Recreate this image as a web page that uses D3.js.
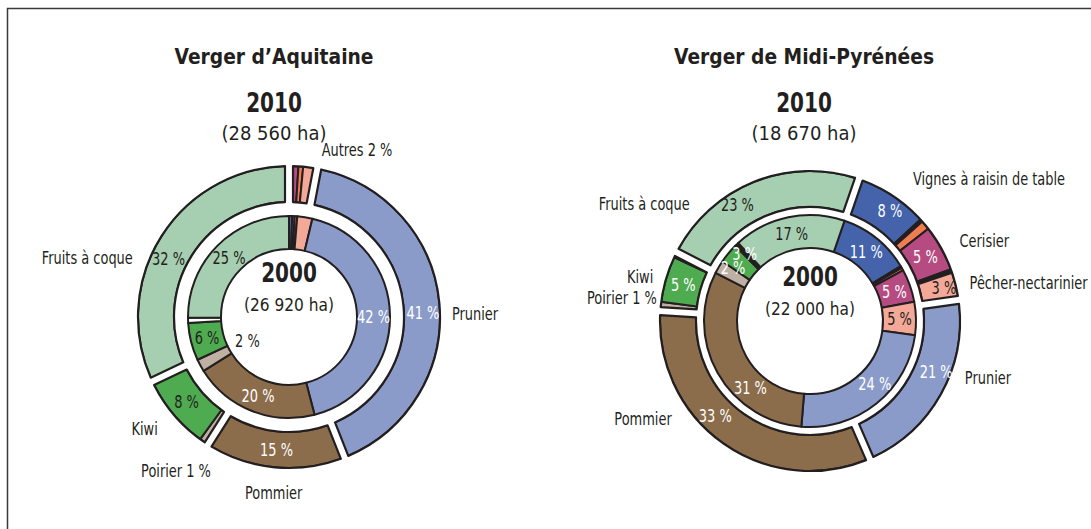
<!DOCTYPE html>
<html>
<head>
<meta charset="utf-8">
<script src="https://cdn.jsdelivr.net/npm/d3@7"></script>
<style>
body{margin:0;background:#fff;}
svg text{font-family:"DejaVu Sans",sans-serif;fill:#231f20;}
</style>
</head>
<body>
<svg id="chart" width="1091" height="529"></svg>
<script>
// ---- data ----
var titles = ['Verger d’Aquitaine', 'Verger de Midi-Pyrénées'];
var years = ['2010', '2000'];
var areas2010 = ['(28 560 ha)', '(18 670 ha)'];
var areas2000 = ['(26 920 ha)', '(22 000 ha)'];

// Aquitaine, 2010 (outer ring) and 2000 (inner ring)
var aqOuterCats = ['Vignes à raisin de table','Cerisier','Autres','Pêcher-nectarinier','Prunier','Pommier','Poirier','Kiwi','Fruits à coque'];
var aqOuterVals = [0.4, 0.6, 0.5, 1.5, 41, 15, 1, 8, 32];
var aqOuterGroup = [0,0,0,0,1,2,3,3,4];
var aqOuterPct = ['','','','','41 %','15 %','','8 %','32 %'];
var aqInnerCats = ['Vignes à raisin de table','Cerisier','Autres','Pêcher-nectarinier','Prunier','Pommier','Poirier','Kiwi','Non précisé','Fruits à coque'];
var aqInnerVals = [0.5, 0.4, 0.4, 2.4, 42, 20, 2, 6, 0.8, 25];
var aqInnerPct = ['','','','','42 %','20 %','2 %','6 %','','25 %'];
var aqNames = ['Autres 2 %','Prunier','Pommier','Poirier 1 %','Kiwi','Fruits à coque'];

// Midi-Pyrénées, 2010 (outer ring) and 2000 (inner ring)
var mpOuterCats = ['Vignes à raisin de table','Divers','Autres','Cerisier','Divers','Pêcher-nectarinier','Prunier','Pommier','Poirier','Kiwi','Divers','Fruits à coque'];
var mpOuterVals = [8, 0.3, 1.0, 5, 0.4, 3, 21, 33, 1, 5, 0.6, 23];
var mpOuterGroup = [0,0,0,0,0,0,1,2,3,3,3,4];
var mpOuterPct = ['8 %','','','5 %','','3 %','21 %','33 %','','5 %','','23 %'];
var mpInnerCats = ['Vignes à raisin de table','Divers','Autres','Cerisier','Pêcher-nectarinier','Prunier','Pommier','Poirier','Kiwi','Divers','Fruits à coque'];
var mpInnerVals = [11, 0.3, 0.4, 5, 5, 24, 31, 2, 3, 0.6, 17];
var mpInnerPct = ['11 %','','','5 %','5 %','24 %','31 %','2 %','3 %','','17 %'];
var mpNames = ['Vignes à raisin de table','Cerisier','Pêcher-nectarinier','Prunier','Pommier','Poirier 1 %','Kiwi','Fruits à coque'];

// ---- styles ----
var ink = '#231f20';
var colors = {
	'Vignes à raisin de table':'#4463aa',
	'Cerisier':'#b54b80',
	'Autres':'#ef7d4f',
	'Divers':'#231f20',
	'Pêcher-nectarinier':'#f3a898',
	'Prunier':'#8a9bc9',
	'Pommier':'#8b6c4b',
	'Poirier':'#bfb0a4',
	'Kiwi':'#4fab50',
	'Fruits à coque':'#a6ceb0',
	'Non précisé':'#ffffff'
};
// no condensed face is installed, so text is squeezed horizontally
var fonts = {
	title:{size:22, sx:0.85, weight:'bold'},
	year:{size:26, sx:0.77, weight:'bold'},
	area:{size:20, sx:0.9, weight:'normal'},
	area2:{size:17.5, sx:0.88, weight:'normal'},
	pct:{size:18, sx:0.72, weight:'normal'},
	name:{size:18, sx:0.72, weight:'normal'}
};

// ---- layout (polar label spots: [angle in degrees from 12 o'clock, radius, anchor]) ----
var panels = [
	{id:'aq', cx:289, cy:317, rot:0, hole:68, inR:101, outIn:115, outOut:151, gap:8, titleX:274,
	 outer:{cats:aqOuterCats, vals:aqOuterVals, grp:aqOuterGroup, pct:aqOuterPct},
	 inner:{cats:aqInnerCats, vals:aqInnerVals, pct:aqInnerPct},
	 names:aqNames,
	 namePos:[[11,171,'start'],[88.6,163,'start'],[185,176,'middle'],[207,172,'end'],[229.7,172,'end'],[290.7,167,'end']],
	 outerPctPos:{4:[88,134], 8:[296,134]},
	 innerPctPos:{6:[240,48]},
	 whiteText:['Prunier','Pommier','Vignes à raisin de table','Cerisier']},
	{id:'mp', cx:810, cy:321, rot:19, hole:73, inR:106, outIn:114, outOut:150, gap:8, titleX:804,
	 outer:{cats:mpOuterCats, vals:mpOuterVals, grp:mpOuterGroup, pct:mpOuterPct},
	 inner:{cats:mpInnerCats, vals:mpInnerVals, pct:mpInnerPct},
	 names:mpNames,
	 namePos:[[35.8,176,'start'],[61.6,170,'start'],[76.6,164,'start'],[110.2,165,'start'],[234.9,169,'end'],[278.9,155,'end'],[286,163,'end'],[314.3,168,'end']],
	 outerPctPos:{0:[36,136], 5:[76,138], 6:[112,136], 7:[225,134], 11:[328,137]},
	 innerPctPos:{5:[134,90], 6:[222,89], 7:[305,94], 8:[316,94]},
	 whiteText:['Prunier','Pommier','Vignes à raisin de table','Cerisier','Kiwi','Poirier']}
];

var svg = d3.select('#chart');

// frame
svg.append('rect')
	.attr('x', 7.5).attr('y', 8.5)
	.attr('width', 1120).attr('height', 560)
	.attr('fill', 'none')
	.attr('stroke', '#3a3a3a')
	.attr('stroke-width', 1.5);

function polar(deg, r){
	var a = deg * Math.PI / 180;
	return [r * Math.sin(a), -r * Math.cos(a)];
}

// text squeezed around its own anchor point
function label(place, x, y, str, f, anchor, color, central){
	var t = place.append('g')
		.attr('transform', 'translate(' + x + ',' + y + ') scale(' + f.sx + ',1)')
		.append('text')
		.attr('text-anchor', anchor || 'middle')
		.attr('font-size', f.size)
		.attr('font-weight', f.weight)
		.text(str);
	if(central) t.attr('dy', '0.36em');
	if(color) t.style('fill', color);
	return t;
}

function pctLabels(g, arcs, pos, ri, ro, p){
	arcs.forEach(function(d, i){
		if(!d.data.label) return;
		var xy;
		if(pos[i]){
			xy = polar(pos[i][0], pos[i][1]);
		}else{
			var mid = (d.startAngle + d.endAngle) / 2 * 180 / Math.PI;
			xy = polar(mid, (ri + ro) / 2);
		}
		var white = p.whiteText.indexOf(d.data.name) >= 0 && !(p.id == 'aq' && d.data.name == 'Poirier');
		label(g, xy[0], xy[1], d.data.label, fonts.pct, 'middle', white ? '#ffffff' : ink, true);
	});
}

function drawPanel(p, k){
	// headings
	var head = svg.append('g');
	label(head, p.titleX, 64, titles[k], fonts.title);
	label(head, p.titleX, 112, years[0], fonts.year);
	label(head, p.titleX, 140, areas2010[k], fonts.area);

	var g = svg.append('g').attr('transform', 'translate(' + p.cx + ',' + p.cy + ')');
	var rot = p.rot * Math.PI / 180;
	var pie = d3.pie().sort(null).value(function(d){ return d.v; })
		.startAngle(rot).endAngle(rot + 2 * Math.PI);

	// inner ring (2000)
	var innerData = p.inner.cats.map(function(c, i){ return {name:c, v:p.inner.vals[i], label:p.inner.pct[i]}; });
	var arcsIn = pie(innerData);
	var arcIn = d3.arc().innerRadius(p.hole).outerRadius(p.inR);
	g.append('g').selectAll('path')
		.data(arcsIn).join('path')
		.attr('d', arcIn)
		.attr('fill', function(d){ return colors[d.data.name]; })
		.attr('stroke', ink).attr('stroke-width', 2).attr('stroke-linejoin', 'round');

	// outer ring (2010), slices gathered in padded groups
	var outerData = p.outer.cats.map(function(c, i){ return {name:c, v:p.outer.vals[i], label:p.outer.pct[i], grp:p.outer.grp[i]}; });
	var arcsOut = pie(outerData);
	var padR = (p.outIn + p.outOut) / 2;
	var arcOut = d3.arc().innerRadius(p.outIn).outerRadius(p.outOut);
	var arcGrp = d3.arc().innerRadius(p.outIn).outerRadius(p.outOut).padRadius(padR);
	var groups = d3.groups(arcsOut, function(d){ return d.data.grp; }).map(function(e){
		var m = e[1];
		return {key:e[0], startAngle:m[0].startAngle, endAngle:m[m.length - 1].endAngle,
			padAngle:p.gap / padR, members:m};
	});
	groups.forEach(function(gr){
		var id = 'clip-' + p.id + '-' + gr.key;
		g.append('clipPath').attr('id', id).append('path').attr('d', arcGrp(gr));
		g.append('g').attr('clip-path', 'url(#' + id + ')')
			.selectAll('path').data(gr.members).join('path')
			.attr('d', arcOut)
			.attr('fill', function(d){ return colors[d.data.name]; })
			.attr('stroke', ink).attr('stroke-width', 2);
		g.append('path').attr('d', arcGrp(gr))
			.attr('fill', 'none').attr('stroke', ink)
			.attr('stroke-width', 2.2).attr('stroke-linejoin', 'round');
	});

	pctLabels(g, arcsIn, p.innerPctPos, p.hole, p.inR, p);
	pctLabels(g, arcsOut, p.outerPctPos, p.outIn, p.outOut, p);

	// centre text
	label(g, 0, -35, years[1], fonts.year);
	label(g, 0, -6, areas2000[k], fonts.area2);

	// category names
	p.names.forEach(function(n, i){
		var q = p.namePos[i];
		var xy = polar(q[0], q[1]);
		label(g, xy[0], xy[1], n, fonts.name, q[2], null, true);
	});
}

panels.forEach(drawPanel);
</script>
</body>
</html>
